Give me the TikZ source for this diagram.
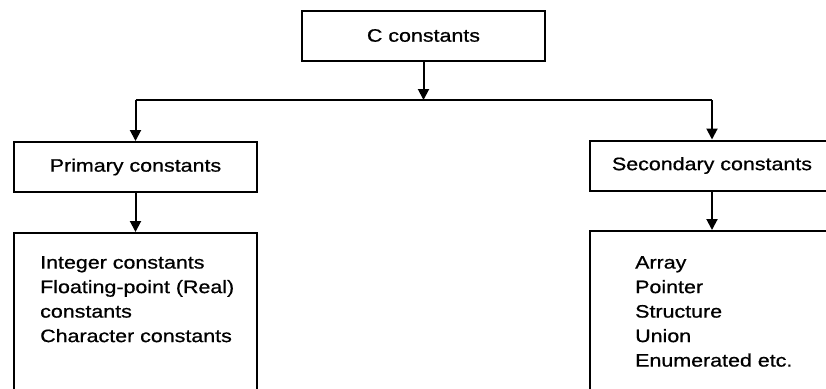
\documentclass[tikz,border=0pt]{standalone}
\usepackage{fontspec}
\setmainfont{Liberation Sans}[FakeStretch=1.19, FakeBold=0.8]
\usetikzlibrary{arrows.meta, positioning}

\begin{document}
\begin{tikzpicture}[
    x=1pt, y=-1pt,
    box/.style={draw=black, line width=2pt, inner sep=0pt, minimum width=243pt, minimum height=50pt},
    listbox/.style={draw=black, line width=2pt, inner sep=0pt, minimum width=243pt, minimum height=190pt, anchor=north},
    listtext/.style={anchor=north west, align=left, inner sep=0pt},
    edge/.style={-{Triangle[length=11pt,width=11pt]}, line width=2pt},
    font=\fontsize{18}{24.5}\selectfont
]
\useasboundingbox (0,0) rectangle (826,388);

% root
\node[box] (top) at (423.5,35.5) {C constants};

% kinds
\node[box] (primary) at (135.5,167) {Primary constants};
\node[box, minimum width=244pt] (secondary) at (712,165.5) {Secondary constants};

% branching line
\coordinate (split) at (423.5,100);
\coordinate (lsplit) at (135.5,100);
\coordinate (rsplit) at (712,100);

\draw[edge] (top) -- (split);
\draw[line width=2pt] (lsplit) -- (rsplit);
\draw[edge] (lsplit) -- (primary);
\draw[edge] (rsplit) -- (secondary);

% lists (open at the page edge)
\node[listbox] (primlist) at (135.5,232) {};
\node[listbox, minimum width=244pt] (seclist) at (712,230) {};
\draw[edge] (primary) -- (primlist);
\draw[edge] (secondary) -- (seclist);

\node[listtext] (primtext) at (40,256) {Integer constants\\Floating-point (Real)\\constants\\Character constants};
\node[listtext] (sectext) at (635,256) {Array\\Pointer\\Structure\\Union\\Enumerated etc.};

\end{tikzpicture}
\end{document}
